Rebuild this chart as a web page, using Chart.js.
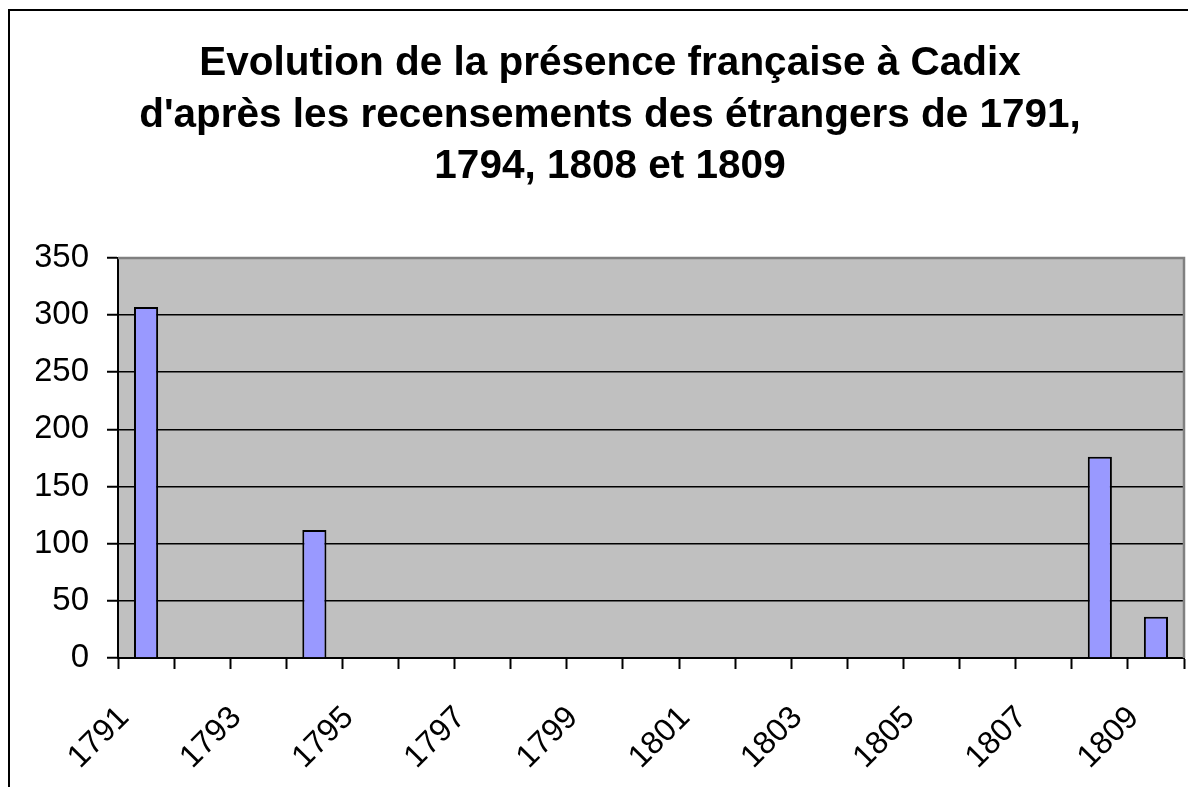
<!DOCTYPE html>
<html>
<head>
<meta charset="utf-8">
<script src="https://cdn.jsdelivr.net/npm/chart.js@4/dist/chart.umd.min.js"></script>
<style>
  html, body { margin: 0; padding: 0; background: #fff; }
  #wrap { width: 1188px; height: 787px; }
</style>
</head>
<body>
<div id="wrap"><canvas id="chart" width="1188" height="787"></canvas></div>
<script>
// --- Données ---
const years = ['1791', '1792', '1793', '1794', '1795', '1796', '1797', '1798', '1799', '1800',
               '1801', '1802', '1803', '1804', '1805', '1806', '1807', '1808', '1809'];
// Français recensés (null = pas de recensement cette année-là)
const francais = [307, null, null, 112, null, null, null, null, null, null,
                  null, null, null, null, null, null, null, 176, 36];
const yTicks = [0, 50, 100, 150, 200, 250, 300, 350];
const titleLines = [
  'Evolution de la présence française à Cadix',
  "d'après les recensements des étrangers de 1791,",
  '1794, 1808 et 1809'
];

const FONT = '"Liberation Sans", Arial, sans-serif';

// --- Fond gris de la zone de tracé + cadre ---
const plotBackground = {
  id: 'plotBackground',
  beforeDraw(chart) {
    const { ctx, chartArea: a } = chart;
    ctx.save();
    ctx.fillStyle = '#C0C0C0';
    ctx.fillRect(a.left, a.top, a.right - a.left, a.bottom - a.top);
    ctx.restore();
  },
  afterDraw(chart) {
    const { ctx, chartArea: a } = chart;
    ctx.save();
    // bord gris haut / droite de la zone de tracé
    ctx.strokeStyle = '#808080';
    ctx.lineWidth = 2.5;
    ctx.beginPath();
    ctx.moveTo(a.left, a.top);
    ctx.lineTo(a.right, a.top);
    ctx.lineTo(a.right, a.bottom);
    ctx.stroke();
    // cadre extérieur du graphique
    ctx.strokeStyle = '#000';
    ctx.lineWidth = 2;
    ctx.strokeRect(9, 10, 1400, 1000);
    ctx.restore();
  }
};

const ctx = document.getElementById('chart').getContext('2d');
new Chart(ctx, {
  type: 'bar',
  data: {
    labels: years,
    datasets: [{
      data: francais,
      backgroundColor: '#9999FF',
      borderColor: '#000',
      borderWidth: 2,
      barPercentage: 0.43,
      categoryPercentage: 1
    }]
  },
  options: {
    responsive: false,
    animation: false,
    layout: { padding: { left: 36, right: 4, top: 0, bottom: 0 } },
    plugins: {
      legend: { display: false },
      tooltip: { enabled: false },
      title: {
        display: true,
        text: titleLines,
        color: '#000',
        font: { family: FONT, size: 40.5, weight: 'bold', lineHeight: 1.275 },
        padding: { top: 38, bottom: 65 }
      }
    },
    scales: {
      x: {
        grid: {
          drawOnChartArea: false,
          drawTicks: true,
          tickLength: 11,
          tickColor: '#000',
          tickWidth: 2,
          offset: true
        },
        border: { color: '#000', width: 2 },
        ticks: {
          autoSkip: false,
          minRotation: 45,
          maxRotation: 45,
          labelOffset: -22,
          padding: 30,
          color: '#000',
          font: { family: FONT, size: 32 },
          callback: (v, i) => (i % 2 === 0 ? years[i] : '')
        },
        afterFit: (scale) => {
          scale.height = 129;
          scale.paddingLeft = 0;
          scale.paddingRight = 0;
        }
      },
      y: {
        min: 0,
        max: 350,
        afterBuildTicks: (scale) => { scale.ticks = yTicks.map(v => ({ value: v })); },
        grid: {
          color: '#000',
          lineWidth: 1.5,
          tickLength: 11,
          tickColor: '#000',
          tickWidth: 2
        },
        border: { color: '#000', width: 2 },
        ticks: {
          padding: 18,
          color: '#000',
          font: { family: FONT, size: 33 }
        },
        afterFit: (scale) => {
          scale.width = 82;
          scale.paddingTop = 0;
          scale.paddingBottom = 0;
        }
      }
    }
  },
  plugins: [plotBackground]
});
</script>
</body>
</html>
